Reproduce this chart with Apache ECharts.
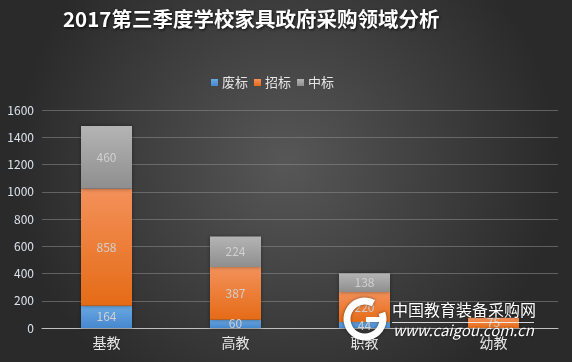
<!DOCTYPE html>
<html><head><meta charset="utf-8">
<script src="https://cdn.jsdelivr.net/npm/echarts@6/dist/echarts.min.js"></script>
<style>html,body{margin:0;padding:0;background:#3a3a3a}#c{width:572px;height:362px}</style>
</head><body><div id="c"></div>
<script>
var categories = ['基教', '高教', '职教', '幼教'];
var feibiao = [164, 60, 44, 0];
var zhaobiao = [858, 387, 220, 75];
var zhongbiao = [460, 224, 138, 0];
var yTicks = [0, 200, 400, 600, 800, 1000, 1200, 1400, 1600];

var font = '"Noto Sans CJK SC", "Open Sans", sans-serif';
function grad(top, bottom) {
  return new echarts.graphic.LinearGradient(0, 0, 0, 1, [{offset: 0, color: top}, {offset: 1, color: bottom}]);
}
var labelCfg = {show: true, position: 'inside', color: '#d0d0d0', fontSize: 12, fontFamily: font,
  formatter: function (p) { return p.value ? p.value : ''; }};
var chart = echarts.init(document.getElementById('c'));
chart.setOption({
  backgroundColor: new echarts.graphic.RadialGradient(0.5, 0.45, 0.75, [
    {offset: 0, color: '#575757'}, {offset: 1, color: '#2a2a2a'}]),
  animation: false,
  graphic: [
    {type: 'text', left: 63, top: 9, style: {text: '2017第三季度学校家具政府采购领域分析', fill: '#ffffff',
      font: 'bold 20.5px ' + font, textShadowColor: 'rgba(0,0,0,0.8)', textShadowBlur: 3, textShadowOffsetX: 1, textShadowOffsetY: 1}},
    {type: 'arc', shape: {cx: 365, cy: 319, r: 18, startAngle: -0.35, endAngle: 5.2}, style: {stroke: '#ffffff', lineWidth: 7, fill: null, shadowColor: 'rgba(0,0,0,0.5)', shadowBlur: 3}, z: 100},
    {type: 'rect', shape: {x: 366, y: 317, width: 18, height: 5}, style: {fill: '#ffffff'}, z: 100},
    {type: 'text', left: 392, top: 302, z: 100, style: {text: '中国教育装备采购网', fill: '#ffffff', font: '16px ' + font,
      textShadowColor: 'rgba(0,0,0,0.7)', textShadowBlur: 2}},
    {type: 'rect', shape: {x: 392, y: 322, width: 142, height: 1}, style: {fill: 'rgba(255,255,255,0.8)'}, z: 100},
    {type: 'text', left: 393, top: 323, z: 100, style: {text: 'www.caigou.com.cn', fill: '#ffffff', font: 'italic 15px ' + font,
      textShadowColor: 'rgba(0,0,0,0.7)', textShadowBlur: 2}}
  ],
  legend: {
    data: ['废标', '招标', '中标'], left: 206, top: 71, itemWidth: 7, itemHeight: 7, itemGap: 6, icon: 'rect',
    textStyle: {color: '#e6e6e6', fontSize: 13, fontFamily: font, padding: [0, 0, 0, -1]}
  },
  grid: {left: 42, right: 14, top: 110, bottom: 34, containLabel: false},
  xAxis: {
    type: 'category', data: categories,
    axisLine: {lineStyle: {color: '#bfbfbf', width: 1}}, axisTick: {show: false},
    axisLabel: {color: '#e6e6e6', fontSize: 14, fontFamily: font, margin: 8}
  },
  yAxis: {
    type: 'value', min: 0, max: 1600, interval: 200,
    axisLine: {show: false}, axisTick: {show: false},
    axisLabel: {color: '#dde3ec', fontSize: 12, fontFamily: font, margin: 8,
      formatter: function (v) { return yTicks.indexOf(v) >= 0 ? String(v) : ''; }},
    splitLine: {lineStyle: {color: 'rgba(140,140,140,0.55)', width: 1}}
  },
  series: [
    {name: '废标', type: 'bar', stack: 'a', barWidth: 51, data: feibiao, label: labelCfg,
      itemStyle: {color: grad('#6aa8e2', '#4688cf'), shadowColor: 'rgba(0,0,0,0.4)', shadowBlur: 4}},
    {name: '招标', type: 'bar', stack: 'a', data: zhaobiao, label: labelCfg,
      itemStyle: {color: grad('#f3915a', '#e56b16'), shadowColor: 'rgba(0,0,0,0.4)', shadowBlur: 4}},
    {name: '中标', type: 'bar', stack: 'a', data: zhongbiao, label: labelCfg,
      itemStyle: {color: grad('#b4b4b4', '#8e8e8e'), shadowColor: 'rgba(0,0,0,0.4)', shadowBlur: 4}}
  ]
});
</script></body></html>
